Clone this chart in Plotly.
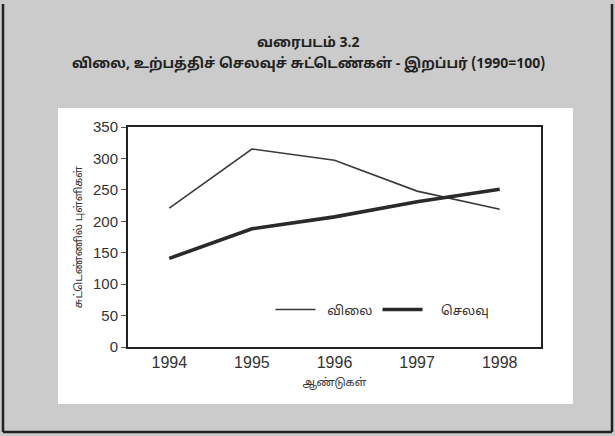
import plotly.graph_objects as go

years = ["1994", "1995", "1996", "1997", "1998"]
price = [221, 315, 297, 248, 219]
cost = [141, 188, 207, 231, 251]
y_ticks = [0, 50, 100, 150, 200, 250, 300, 350]
series_names = ["விலை", "செலவு"]

title1 = "வரைபடம் 3.2"
title2 = "விலை, உற்பத்திச் செலவுச் சுட்டெண்கள் - இறப்பர் (1990=100)"
y_title = "சுட்டெண்ணில் புள்ளிகள்"
x_title = "ஆண்டுகள்"

TAMIL = "Noto Sans Tamil, Lohit Tamil, Noto Sans, DejaVu Sans, sans-serif"
NUM = "Liberation Sans, Arial, sans-serif"
NB = "\u00a0"

# plot area in pixels: x 128..541, y 127..347
def px(x):
    return (x - 128) / 413

def py(y):
    return (347 - y) / 220

fig = go.Figure()
fig.add_trace(go.Scatter(x=years, y=price, mode="lines", name=NB * 2 + series_names[0],
                         line=dict(color="#3a3a3a", width=1.6)))
fig.add_trace(go.Scatter(x=years, y=cost, mode="lines", name=NB * 4 + series_names[1],
                         line=dict(color="#2a2a2a", width=3.6)))

border = dict(color="#222", width=2.5)
fig.update_layout(
    width=615, height=436,
    margin=dict(l=128, r=74, t=127, b=89),
    paper_bgcolor="#cbcbcb",
    plot_bgcolor="white",
    showlegend=True,
    legend=dict(orientation="h", x=0.345, y=0.17, xanchor="left", yanchor="middle",
                bgcolor="rgba(0,0,0,0)", font=dict(family=TAMIL, size=13, color="#333"),
                itemwidth=40, tracegroupgap=0),
    xaxis=dict(type="category", range=[-0.5, 4.5], showgrid=False, zeroline=False,
               showline=True, linecolor="#222", linewidth=2, mirror=True,
               ticks="", tickfont=dict(family=NUM, size=16, color="#333"),
               title=dict(text=x_title, font=dict(family=TAMIL, size=11, color="#333"), standoff=8)),
    yaxis=dict(range=[0, 350], tickvals=y_ticks, showgrid=False, zeroline=False,
               showline=True, linecolor="#222", linewidth=2, mirror=True,
               ticks="outside", ticklen=5, tickcolor="#555",
               tickfont=dict(family=NUM, size=15, color="#333"),
               title=dict(text=y_title, font=dict(family=TAMIL, size=11, color="#333"), standoff=8)),
    shapes=[
        dict(type="rect", xref="paper", yref="paper", layer="below",
             x0=px(58), x1=px(573), y0=py(404), y1=py(108),
             fillcolor="white", line=dict(width=0)),
        dict(type="line", xref="paper", yref="paper", x0=px(3), x1=px(612), y0=py(432), y1=py(432), line=border),
        dict(type="line", xref="paper", yref="paper", x0=px(3), x1=px(3), y0=py(4), y1=py(432), line=border),
        dict(type="line", xref="paper", yref="paper", x0=px(612), x1=px(612), y0=py(4), y1=py(432), line=border),
    ],
    annotations=[
        dict(text="<b>" + title1 + "</b>", xref="paper", yref="paper",
             x=px(308), y=py(43), xanchor="center", yanchor="middle", showarrow=False,
             font=dict(family=TAMIL, size=14, color="#222")),
        dict(text="<b>" + title2 + "</b>", xref="paper", yref="paper",
             x=px(308), y=py(64), xanchor="center", yanchor="middle", showarrow=False,
             font=dict(family=TAMIL, size=14, color="#222")),
    ],
)

fig.write_html("out.html", config={"displayModeBar": False},
               post_script=("document.body.style.margin='0';document.body.style.overflow='hidden';"
                            "var d=document.querySelector('.plotly-graph-div');"
                            "d.style.outline='2.5px solid #222';d.style.outlineOffset='-4px';"))
